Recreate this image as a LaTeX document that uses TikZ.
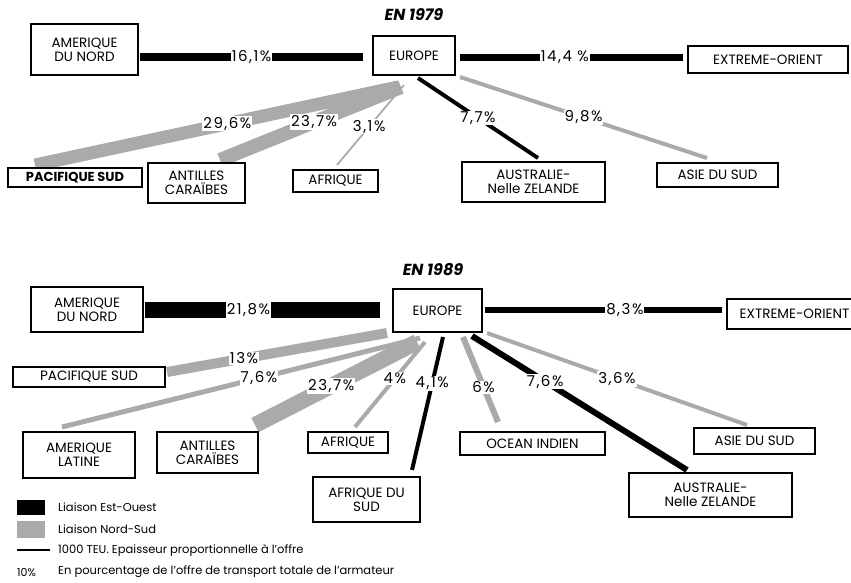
\documentclass[tikz,border=0pt]{standalone}
\usepackage{fontspec}
\setmainfont{Poppins}
\begin{document}
\begin{tikzpicture}[x=1pt,y=-1pt,
  box/.style={draw, line width=1.3pt, fill=white, inner sep=0pt, align=center, font=\fontsize{13.5}{14}\selectfont},
  pct/.style={fill=white, inner sep=1pt, font=\fontsize{15}{16}\selectfont\addfontfeature{LetterSpace=10}},
  eo/.style={draw=black, line width=#1},
  ns/.style={draw=ns, line width=#1},
  legtext/.style={anchor=west, inner sep=0pt, font=\fontsize{11.5}{13}\selectfont},
  title/.style={font=\fontsize{16}{18}\selectfont\bfseries\itshape}
]
\definecolor{ns}{RGB}{170,170,170}
\useasboundingbox (0,0) rectangle (851,582);
\clip (0,0) rectangle (851,582);

% ---------------- 1979 ----------------
\node[title] (t79) at (414,15) {EN 1979};

% endpoints
\coordinate (p79a) at (140,57);  \coordinate (p79b) at (363,57);
\coordinate (p79c) at (460,57);  \coordinate (p79d) at (683,57);
\coordinate (p79e) at (398,87);  \coordinate (p79f) at (35,165);
\coordinate (p79g) at (401,87);  \coordinate (p79h) at (220,160);
\coordinate (p79i) at (404,85);  \coordinate (p79j) at (337,165);
\coordinate (p79k) at (418,78);  \coordinate (p79l) at (538,158);
\coordinate (p79m) at (460,77);  \coordinate (p79n) at (707,158);

\draw[eo=8pt] (p79a) -- node[pct] (l79a) {16,1\%} (p79b);
\draw[eo=7pt] (p79c) -- node[pct, pos=0.47] (l79b) {14,4 \%} (p79d);
\draw[ns=13pt] (p79e) -- node[pct, pos=0.47] (l79c) {29,6\%} (p79f);
\draw[ns=14pt] (p79g) -- node[pct, pos=0.48] (l79d) {23,7\%} (p79h);
\draw[ns=1.8pt] (p79i) -- node[pct, pos=0.52] (l79e) {3,1\%} (p79j);
\draw[eo=4pt] (p79k) -- node[pct, pos=0.5] (l79f) {7,7\%} (p79l);
\draw[ns=4pt] (p79m) -- node[pct, pos=0.5] (l79g) {9,8\%} (p79n);

\node[box, minimum width=107pt, minimum height=51pt] (amn79) at (84.5,49.5) {AMERIQUE\\DU NORD};
\node[box, minimum width=82pt, minimum height=39pt] (eu79) at (414,55.5) {EUROPE};
\node[box, minimum width=160pt, minimum height=27pt] (eo79) at (768,59.5) {EXTREME-ORIENT};
\node[box, minimum width=134pt, minimum height=19pt, line width=1.8pt, font=\fontsize{13}{14}\selectfont\bfseries] (ps79) at (75,177.5) {PACIFIQUE SUD};
\node[box, minimum width=97pt, minimum height=40pt] (ac79) at (196.5,183) {ANTILLES\\CARAÏBES};
\node[box, minimum width=85pt, minimum height=22pt] (af79) at (335.5,181) {AFRIQUE};
\node[box, minimum width=143pt, minimum height=40pt] (au79) at (533.5,182) {AUSTRALIE-\\Nelle ZELANDE};
\node[box, minimum width=121pt, minimum height=24pt] (as79) at (717.5,175) {ASIE DU SUD};

% ---------------- 1989 ----------------
\node[title] (t89) at (433,270) {EN 1989};

\coordinate (q89a) at (145,310);  \coordinate (q89b) at (380,310);
\coordinate (q89c) at (485,310);  \coordinate (q89d) at (722,310);
\coordinate (q89e) at (387,333);  \coordinate (q89f) at (167,372);
\coordinate (q89g) at (420,338);  \coordinate (q89h) at (62,427);
\coordinate (q89i) at (417,342);  \coordinate (q89j) at (255,425);
\coordinate (q89k) at (425,342);  \coordinate (q89l) at (355,427);
\coordinate (q89m) at (443,337);  \coordinate (q89n) at (412,470);
\coordinate (q89o) at (463,337);  \coordinate (q89p) at (498,422);
\coordinate (q89q) at (472,336);  \coordinate (q89r) at (687,470);
\coordinate (q89s) at (487,333);  \coordinate (q89t) at (747,425);

\draw[eo=16pt] (q89a) -- node[pct, pos=0.44] (l89a) {21,8\%} (q89b);
\draw[eo=6pt] (q89c) -- node[pct, pos=0.59] (l89b) {8,3\%} (q89d);
\draw[ns=10pt] (q89e) -- node[pct, pos=0.65] (l89c) {13\%} (q89f);
\draw[ns=5pt] (q89g) -- node[pct, pos=0.45] (l89d) {7,6\%} (q89h);
\draw[ns=16pt] (q89i) -- node[pct, pos=0.53] (l89e) {23,7\%} (q89j);
\draw[ns=4pt] (q89k) -- node[pct, pos=0.43] (l89f) {4\%} (q89l);
\draw[eo=4pt] (q89m) -- node[pct, pos=0.35] (l89g) {4,1\%} (q89n);
\draw[ns=6pt] (q89o) -- node[pct, pos=0.59] (l89h) {6\%} (q89p);
\draw[eo=6pt] (q89q) -- node[pct, pos=0.34] (l89i) {7,6\%} (q89r);
\draw[ns=4pt] (q89s) -- node[pct, pos=0.5] (l89j) {3,6\%} (q89t);

\node[box, minimum width=112pt, minimum height=45pt] (amn89) at (87,309.5) {AMERIQUE\\DU NORD};
\node[box, minimum width=89pt, minimum height=43pt] (eu89) at (437.5,310.5) {EUROPE};
\node[box, minimum width=135pt, minimum height=30pt] (eo89) at (794.5,314) {EXTREME-ORIENT};
\node[box, minimum width=152pt, minimum height=20pt] (ps89) at (89,377) {PACIFIQUE SUD};
\node[box, minimum width=112pt, minimum height=46pt] (al89) at (79,455) {AMERIQUE\\LATINE};
\node[box, minimum width=101pt, minimum height=41pt] (ac89) at (207.5,452.5) {ANTILLES\\CARAÏBES};
\node[box, minimum width=80pt, minimum height=21pt] (af89) at (348,442.5) {AFRIQUE};
\node[box, minimum width=107pt, minimum height=45pt] (afs89) at (366.5,499.5) {AFRIQUE DU\\SUD};
\node[box, minimum width=145pt, minimum height=23pt] (oi89) at (532.5,443.5) {OCEAN INDIEN};
\node[box, minimum width=163pt, minimum height=44pt] (au89) at (710.5,495) {AUSTRALIE-\\Nelle ZELANDE};
\node[box, minimum width=121pt, minimum height=26pt] (as89) at (754.5,441) {ASIE DU SUD};

% ---------------- legend ----------------
\node[fill=black, minimum width=28pt, minimum height=15pt, inner sep=0pt] (k1) at (31,507.5) {};
\node[fill=ns, minimum width=28pt, minimum height=17pt, inner sep=0pt] (k2) at (31,529.5) {};
\coordinate (k3a) at (17,550); \coordinate (k3b) at (50,550);
\draw[line width=1.2pt] (k3a) -- (k3b);
\node[anchor=west, inner sep=0pt, font=\fontsize{11}{13}\selectfont] (k4) at (17,573) {10\%};
\node[legtext] (k1t) at (58,507) {Liaison Est-Ouest};
\node[legtext] (k2t) at (58,529) {Liaison Nord-Sud};
\node[legtext] (k3t) at (58,550) {1000 TEU. Epaisseur proportionnelle à l'offre};
\node[legtext] (k4t) at (58,572) {En pourcentage de l'offre de transport totale de l'armateur};
\end{tikzpicture}
\end{document}
